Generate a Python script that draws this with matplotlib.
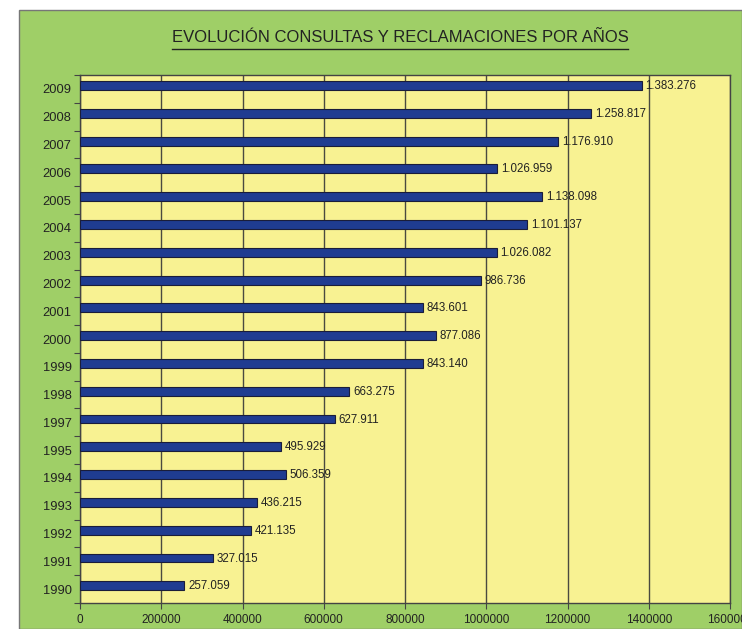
import numpy as np
import matplotlib.pyplot as plt
from matplotlib.patches import Rectangle
from matplotlib.lines import Line2D

plt.rcParams['font.family'] = ['Liberation Sans', 'DejaVu Sans']

years = ["1990", "1991", "1992", "1993", "1994", "1995", "1997", "1998", "1999",
         "2000", "2001", "2002", "2003", "2004", "2005", "2006", "2007", "2008", "2009"]
values = [257059, 327015, 421135, 436215, 506359, 495929, 627911, 663275, 843140,
          877086, 843601, 986736, 1026082, 1101137, 1138098, 1026959, 1176910,
          1258817, 1383276]
x_ticks = [0, 200000, 400000, 600000, 800000, 1000000, 1200000, 1400000, 1600000]

green = "#9fcf67"
yellow = "#f8f292"
bar_col = "#1f3c91"

W, H = 742, 629
fig = plt.figure(figsize=(W / 100, H / 100), dpi=100)
fig.patch.set_facecolor("white")

# green panel behind the chart
fig.patches.append(Rectangle((19 / W, 0), 1 - 19 / W, 1 - 10 / H, transform=fig.transFigure,
                             facecolor=green, edgecolor="#777777", lw=1.0, zorder=-5))

ax = fig.add_axes([80 / W, 1 - 603 / H, 650 / W, 528 / H])
ax.set_facecolor(yellow)

pos = np.arange(len(years))
ax.barh(pos + 0.12, values, height=0.32, color=bar_col, edgecolor="#1a1d3a", lw=0.8, zorder=3)

for p, v in zip(pos, values):
    lab = f"{v:,}".replace(",", ".")
    ax.text(v + 9000, p + 0.1, lab, va="center", ha="left", fontsize=8.3, color="#222222", zorder=4)

ax.set_xlim(0, 1600000)
ax.set_ylim(-0.5, len(years) - 0.5)
ax.set_xticks(x_ticks)
ax.set_xticklabels([str(t) for t in x_ticks], fontsize=8.5, color="#222222")
ax.xaxis.grid(True, color="#4a4a40", lw=1.0, zorder=1)
ax.set_axisbelow(True)

# tick marks between categories, labels in the middle
ax.set_yticks(np.arange(-0.5, len(years), 1.0))
ax.set_yticklabels([])
ax.set_yticks(pos, minor=True)
ax.set_yticklabels(years, minor=True, fontsize=9.3, color="#222222")
ax.tick_params(axis="y", which="minor", length=0, pad=6)
ax.tick_params(axis="y", which="major", length=4, color="#444444", direction="out")
ax.tick_params(axis="x", length=4, color="#444444", pad=4)

for s in ax.spines.values():
    s.set_color("#444444")
    s.set_linewidth(1.0)

t = fig.text(400 / W, 1 - 38 / H, "EVOLUCIÓN CONSULTAS Y RECLAMACIONES POR AÑOS",
             ha="center", va="center", fontsize=12, color="#222222")
fig.canvas.draw()
bb = t.get_window_extent().transformed(fig.transFigure.inverted())
fig.add_artist(Line2D([bb.x0, bb.x1], [bb.y0 - 3 / H, bb.y0 - 3 / H], transform=fig.transFigure,
                      color="#222222", lw=1.0))

fig.savefig("out.png", dpi=100, facecolor=fig.get_facecolor())
